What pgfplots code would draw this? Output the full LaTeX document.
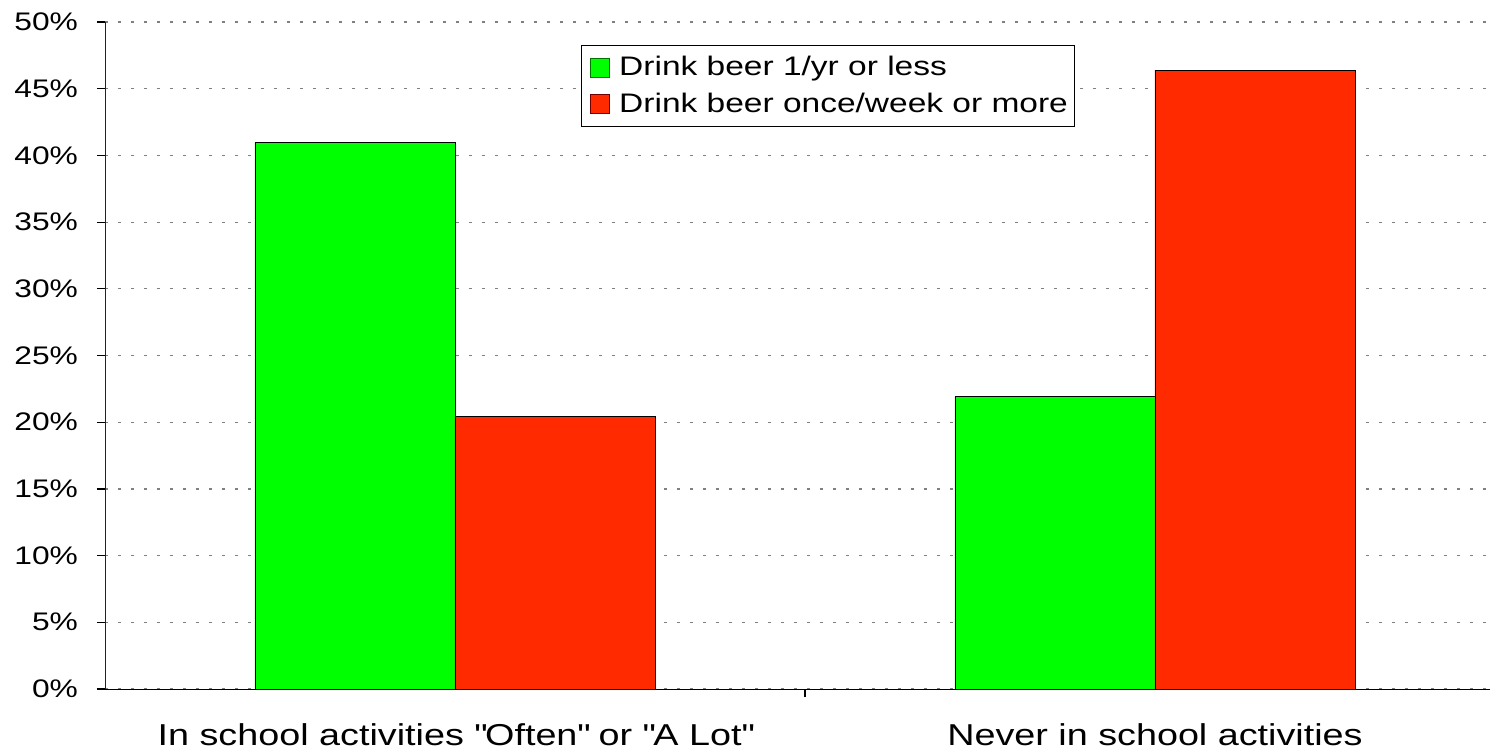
\documentclass[border=0pt]{standalone}
\usepackage{fontspec}
\setmainfont{Liberation Sans}
\newfontfamily\widefont{Liberation Sans}[FakeStretch=1.25]
\usepackage{pgfplots}
\pgfplotsset{compat=1.18}
\definecolor{bgreen}{HTML}{00FF00}
\definecolor{bred}{HTML}{FF2A00}
\begin{document}
\begin{tikzpicture}
\useasboundingbox (-52.5pt,-31pt) rectangle (692.5pt,344.5pt);
\begin{axis}[
  at={(0pt,0pt)}, anchor=south west,
  scale only axis, width=692.5pt, height=333.5pt,
  xmin=-0.5, xmax=1.4786, ymin=0, ymax=50,
  enlargelimits=false,
  ybar, bar width=100pt,
  axis lines*=left, axis line style={-},
  y axis line style={draw=red!45!black},
  xtick={0.5}, xticklabels={},
  extra x ticks={0,1},
  extra x tick labels={{In school activities \textquotedbl Often\textquotedbl{} or \textquotedbl A Lot\textquotedbl},{Never in school activities}},
  extra x tick style={major tick length=0pt, grid=none,
    tick label style={yshift=-14pt, font=\widefont\fontsize{15.1}{18}\selectfont}},
  ytick={0,5,...,50},
  yticklabel={\pgfmathprintnumber{\tick}\%},
  /pgf/number format/assume math mode=true,
  yticklabel style={font=\widefont\fontsize{12.7}{15}\selectfont, xshift=-6pt},
  ymajorgrids,
  grid style={gray, line width=0.6pt, dash pattern=on 1.3pt off 5.2pt},
  tick align=outside, major tick length=4pt,
  tick style={black, line width=0.6pt},
  legend style={at={(axis description cs:0.3437,0.9655)}, anchor=north west,
    draw=black, font=\widefont\fontsize{13.4}{16}\selectfont, inner xsep=1.5pt, inner ysep=3pt,
    row sep=2pt, column sep=3pt, cells={anchor=west}, nodes={inner xsep=1.5pt, inner ysep=2.5pt}},
  legend image code/.code={\path (0pt,0pt); \draw[#1] (3pt,-4.75pt) rectangle (12.5pt,4.75pt);},
]
\addplot[fill=bgreen, draw=black, bar shift=-50pt,
  legend image post style={draw=green!45!black}]
  coordinates {(0,41.0) (1,21.9)};
\addplot[fill=bred, draw=black, bar shift=50pt,
  legend image post style={draw=red!45!black}]
  coordinates {(0,20.4) (1,46.4)};
\legend{Drink beer 1/yr or less, Drink beer once/week or more}
\end{axis}
\end{tikzpicture}
\end{document}
